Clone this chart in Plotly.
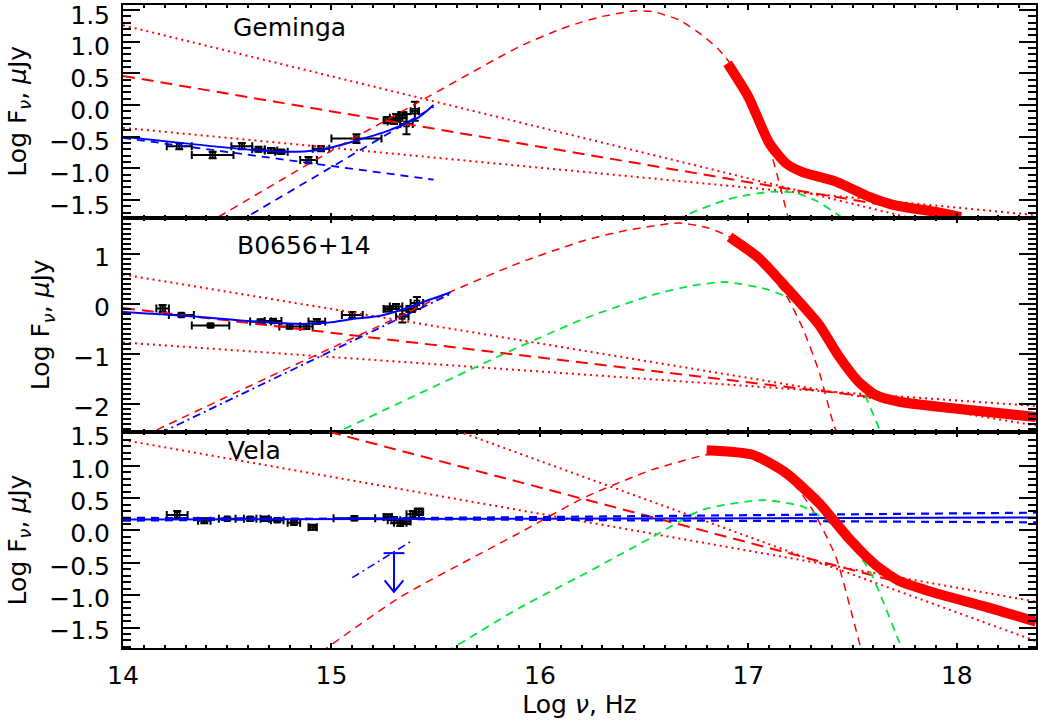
import plotly.graph_objects as go

# ---------------- axis ranges ----------------
X_RANGE = [14.0, 18.38]
Y1_RANGE = [-1.777, 1.58]
Y2_RANGE = [-2.56, 1.73]
Y3_RANGE = [-1.816, 1.522]

panel_names = ["Geminga", "B0656+14", "Vela"]
label_x = [14.80, 14.87, 14.63]
label_y = [1.22, 1.18, 1.24]

# ---------------- Geminga ----------------
gem_dot_hi_x = [14.0, 18.38]; gem_dot_hi_y = [1.26, -2.27]
gem_dot_lo_x = [14.0, 18.38]; gem_dot_lo_y = [-0.36, -1.74]
gem_pl_x = [14.0, 18.38]; gem_pl_y = [0.46, -1.99]
gem_bb_x = [14.40, 14.98, 15.41, 15.90, 16.10, 16.20, 16.30, 16.38, 16.46, 16.55, 16.67, 16.78, 16.86, 16.93, 17.00, 17.05, 17.10, 17.15, 17.20]
gem_bb_y = [-1.88, -0.76, 0.03, 0.92, 1.20, 1.31, 1.40, 1.45, 1.49, 1.47, 1.34, 1.10, 0.87, 0.58, 0.15, -0.22, -0.66, -1.25, -1.90]
gem_tot_x = [16.90, 17.00, 17.10, 17.18, 17.26, 17.42, 17.58, 17.70, 17.90, 18.02]
gem_tot_y = [0.66, 0.13, -0.60, -0.92, -1.06, -1.21, -1.45, -1.58, -1.69, -1.77]
gem_grn_x = [16.60, 16.68, 16.89, 17.00, 17.11, 17.23, 17.33, 17.42, 17.46]
gem_grn_y = [-1.92, -1.77, -1.50, -1.42, -1.37, -1.39, -1.52, -1.71, -1.80]
gem_opt_x = [14.0, 14.31, 14.62, 14.79, 14.94, 15.00, 15.10, 15.26, 15.42, 15.49]
gem_opt_y = [-0.50, -0.61, -0.71, -0.74, -0.71, -0.67, -0.58, -0.42, -0.19, 0.00]
gem_bpl_x = [14.0, 15.49]; gem_bpl_y = [-0.52, -1.18]
gem_brj_x = [14.50, 15.49]; gem_brj_y = [-1.95, -0.03]
gem_px = [14.27, 14.43, 14.57, 14.65, 14.71, 14.76, 14.89, 14.95, 15.12, 15.27, 15.30, 15.31, 15.34, 15.36, 15.40]
gem_py = [-0.65, -0.79, -0.65, -0.70, -0.72, -0.74, -0.87, -0.69, -0.53, -0.24, -0.26, -0.20, -0.16, -0.30, -0.10]
gem_pxe = [0.06, 0.10, 0.05, 0.03, 0.03, 0.03, 0.04, 0.04, 0.12, 0.02, 0.03, 0.03, 0.02, 0.03, 0.02]
gem_pye = [0.05, 0.05, 0.05, 0.04, 0.04, 0.03, 0.05, 0.04, 0.07, 0.05, 0.04, 0.06, 0.05, 0.16, 0.15]

# ---------------- B0656+14 ----------------
b06_dot_hi_x = [14.0, 18.38]; b06_dot_hi_y = [0.59, -2.43]
b06_dot_lo_x = [14.0, 18.38]; b06_dot_lo_y = [-0.77, -2.04]
b06_pl_x = [14.0, 18.38]; b06_pl_y = [-0.08, -2.25]
b06_bb_x = [14.10, 14.69, 15.01, 15.27, 15.57, 15.90, 16.22, 16.40, 16.54, 16.67, 16.80, 16.91, 17.05, 17.18, 17.26, 17.34, 17.41, 17.44]
b06_bb_y = [-2.64, -1.48, -0.86, -0.36, 0.24, 0.82, 1.28, 1.46, 1.56, 1.62, 1.53, 1.34, 0.84, 0.18, -0.48, -1.36, -2.42, -2.70]
b06_tot_x = [16.91, 17.05, 17.18, 17.34, 17.43, 17.53, 17.61, 17.73, 17.97, 18.38]
b06_tot_y = [1.34, 0.92, 0.34, -0.42, -1.02, -1.56, -1.82, -1.96, -2.08, -2.26]
b06_grn_x = [15.00, 15.90, 16.22, 16.54, 16.72, 16.89, 17.10, 17.23, 17.37, 17.53, 17.64]
b06_grn_y = [-2.62, -0.86, -0.28, 0.18, 0.36, 0.44, 0.28, 0.04, -0.56, -1.56, -2.62]
b06_opt_x = [14.0, 14.31, 14.62, 14.86, 14.99, 15.10, 15.23, 15.34, 15.46, 15.57]
b06_opt_y = [-0.16, -0.24, -0.35, -0.40, -0.37, -0.30, -0.24, -0.11, 0.07, 0.23]
b06_bdd_x = [14.18, 15.57]; b06_bdd_y = [-2.58, 0.20]
b06_px = [14.19, 14.28, 14.42, 14.66, 14.72, 14.80, 14.88, 14.93, 15.10, 15.27, 15.31, 15.34, 15.38, 15.41]
b06_py = [-0.09, -0.22, -0.43, -0.35, -0.34, -0.45, -0.45, -0.35, -0.22, -0.10, -0.05, -0.25, -0.10, 0.02]
b06_pxe = [0.03, 0.06, 0.09, 0.05, 0.04, 0.05, 0.03, 0.04, 0.05, 0.02, 0.03, 0.03, 0.02, 0.03]
b06_pye = [0.07, 0.03, 0.03, 0.04, 0.04, 0.04, 0.05, 0.05, 0.06, 0.05, 0.05, 0.12, 0.06, 0.12]

# ---------------- Vela ----------------
vel_dot_a_x = [15.50, 18.38]; vel_dot_a_y = [1.66, -1.71]
vel_dot_b_x = [14.0, 18.38]; vel_dot_b_y = [1.40, -1.10]
vel_pl_x = [14.90, 18.38]; vel_pl_y = [1.60, -1.36]
vel_bb_x = [14.95, 15.33, 15.90, 16.22, 16.54, 16.80, 16.92, 17.05, 17.18, 17.30, 17.42, 17.54, 17.56]
vel_bb_y = [-1.88, -1.03, -0.04, 0.52, 0.94, 1.17, 1.20, 1.10, 0.86, 0.36, -0.41, -1.82, -2.00]
vel_tot_x = [16.80, 17.02, 17.18, 17.34, 17.49, 17.62, 17.73, 17.90, 18.14, 18.38]
vel_tot_y = [1.24, 1.17, 0.89, 0.42, -0.15, -0.56, -0.79, -0.97, -1.18, -1.41]
vel_grn_x = [15.55, 15.90, 16.22, 16.54, 16.78, 17.07, 17.26, 17.42, 17.58, 17.72, 17.75]
vel_grn_y = [-1.88, -1.20, -0.66, -0.10, 0.32, 0.47, 0.37, 0.05, -0.61, -1.69, -1.90]
vel_opt_x = [14.0, 18.38]; vel_opt_y = [0.17, 0.20]
vel_up_x = [14.0, 18.38]; vel_up_y = [0.152, 0.275]
vel_lo_x = [14.0, 18.38]; vel_lo_y = [0.196, 0.126]
vel_bdd_x = [15.10, 15.38]; vel_bdd_y = [-0.73, -0.17]
vel_ul_x = 15.30; vel_ul_top = -0.35; vel_ul_bot = -0.95
vel_px = [14.26, 14.39, 14.50, 14.61, 14.68, 14.74, 14.82, 14.91, 15.11, 15.27, 15.30, 15.33, 15.36, 15.39, 15.42]
vel_py = [0.24, 0.15, 0.18, 0.18, 0.18, 0.16, 0.12, 0.05, 0.19, 0.21, 0.16, 0.12, 0.14, 0.25, 0.29]
vel_pxe = [0.05, 0.03, 0.04, 0.03, 0.02, 0.03, 0.03, 0.02, 0.10, 0.02, 0.03, 0.03, 0.02, 0.03, 0.02]
vel_pye = [0.06, 0.04, 0.02, 0.03, 0.03, 0.03, 0.03, 0.04, 0.03, 0.04, 0.05, 0.05, 0.04, 0.05, 0.05]

RED = "#FF0000"
GREEN = "#00E63C"
BLUE = "#0000FF"
FONT = "DejaVu Sans"
FS = 25

fig = go.Figure()
AX = {1: ("x", "y"), 2: ("x2", "y2"), 3: ("x3", "y3")}


def line(row, x, y, color, width, dash="solid", shape="linear"):
    xa, ya = AX[row]
    fig.add_trace(go.Scatter(x=x, y=y, mode="lines", xaxis=xa, yaxis=ya,
                             line=dict(color=color, width=width, dash=dash, shape=shape, smoothing=0.6),
                             showlegend=False, hoverinfo="skip"))


def points(row, x, y, xe, ye):
    xa, ya = AX[row]
    fig.add_trace(go.Scatter(x=x, y=y, mode="markers", xaxis=xa, yaxis=ya,
                             marker=dict(symbol="square-open", size=5, color="black", line=dict(width=1.5)),
                             error_x=dict(type="data", array=xe, color="black", thickness=2, width=4),
                             error_y=dict(type="data", array=ye, color="black", thickness=2, width=4),
                             showlegend=False, hoverinfo="skip"))


DOT = "2px,4px"
DASH_L = "12px,7px"
DASH_S = "8px,6px"
DASHDOT = "8px,4px,2px,4px"

panels = [
    (1, gem_px, gem_py, gem_pxe, gem_pye),
    (2, b06_px, b06_py, b06_pxe, b06_pye),
    (3, vel_px, vel_py, vel_pxe, vel_pye),
]
for p in panels:
    points(*p)

# Geminga
line(1, gem_dot_hi_x, gem_dot_hi_y, RED, 2, DOT)
line(1, gem_dot_lo_x, gem_dot_lo_y, RED, 2, DOT)
line(1, gem_pl_x, gem_pl_y, RED, 2, DASH_L)
line(1, gem_bb_x, gem_bb_y, RED, 1.5, DASH_S, "spline")
line(1, gem_grn_x, gem_grn_y, GREEN, 1.8, DASH_S, "spline")
line(1, gem_bpl_x, gem_bpl_y, BLUE, 1.8, DASH_S)
line(1, gem_brj_x, gem_brj_y, BLUE, 1.8, DASH_S)
line(1, gem_opt_x, gem_opt_y, BLUE, 2, "solid", "spline")
line(1, gem_tot_x, gem_tot_y, RED, 10, "solid", "spline")

# B0656+14
line(2, b06_dot_hi_x, b06_dot_hi_y, RED, 2, DOT)
line(2, b06_dot_lo_x, b06_dot_lo_y, RED, 2, DOT)
line(2, b06_pl_x, b06_pl_y, RED, 2, DASH_L)
line(2, b06_bb_x, b06_bb_y, RED, 1.5, DASH_S, "spline")
line(2, b06_grn_x, b06_grn_y, GREEN, 1.8, DASH_S, "spline")
line(2, b06_bdd_x, b06_bdd_y, BLUE, 1.8, DASHDOT)
line(2, b06_opt_x, b06_opt_y, BLUE, 2, "solid", "spline")
line(2, b06_tot_x, b06_tot_y, RED, 10, "solid", "spline")

# Vela
line(3, vel_dot_a_x, vel_dot_a_y, RED, 2, DOT)
line(3, vel_dot_b_x, vel_dot_b_y, RED, 2, DOT)
line(3, vel_pl_x, vel_pl_y, RED, 2, DASH_L)
line(3, vel_bb_x, vel_bb_y, RED, 1.5, DASH_S, "spline")
line(3, vel_grn_x, vel_grn_y, GREEN, 1.8, DASH_S, "spline")
line(3, vel_opt_x, vel_opt_y, BLUE, 2)
line(3, vel_up_x, vel_up_y, BLUE, 2.2, DASH_S)
line(3, vel_lo_x, vel_lo_y, BLUE, 2.2, DASH_S)
line(3, vel_bdd_x, vel_bdd_y, BLUE, 1.5, DASHDOT)
line(3, vel_tot_x, vel_tot_y, RED, 10, "solid", "spline")
# upper limit with arrow
cap = 0.05
line(3, [vel_ul_x - cap, vel_ul_x + cap], [vel_ul_top, vel_ul_top], BLUE, 2)
line(3, [vel_ul_x, vel_ul_x], [vel_ul_top, vel_ul_bot], BLUE, 2)
line(3, [vel_ul_x - 0.045, vel_ul_x, vel_ul_x + 0.045],
     [vel_ul_bot + 0.18, vel_ul_bot, vel_ul_bot + 0.18], BLUE, 2)

# ---------------- layout ----------------
H_PLOT = 726 - 5 - 78
d3 = (648 - 432) / H_PLOT
d2 = (648 - 217.5) / H_PLOT

tickfont = dict(family=FONT, size=FS, color="black")
common = dict(showline=True, linewidth=2, linecolor="black", mirror="ticks", automargin=False,
              ticks="inside", tickwidth=2, tickcolor="black", showgrid=False, zeroline=False,
              tickfont=tickfont, ticklabeloverflow="allow")

xcommon = dict(common, range=X_RANGE, dtick=1, tick0=14, ticklen=5,
               minor=dict(dtick=0.1, tick0=14, ticklen=3, ticks="inside", tickwidth=1.5, tickcolor="black", showgrid=False))


def ycommon(rng, dtick, fmt, shift):
    return dict(common, range=rng, dtick=dtick, tick0=0, tickformat=fmt, ticklen=17,
                ticklabelstandoff=6, ticklabelshift=shift,
                minor=dict(dtick=0.1, tick0=0, ticklen=8, ticks="inside", tickwidth=1.5, tickcolor="black", showgrid=False),
                title=dict(text="Log F<sub><i>ν</i></sub>, <i>μ</i>Jy", font=dict(family=FONT, size=FS, color="black"), standoff=16))


fig.update_layout(
    width=1038, height=726,
    margin=dict(l=123, r=2, t=5, b=78, autoexpand=False),
    paper_bgcolor="white", plot_bgcolor="white",
    font=dict(family=FONT, size=FS, color="black"),
    xaxis=dict(xcommon, domain=[0, 1], anchor="y", showticklabels=False),
    xaxis2=dict(xcommon, domain=[0, 1], anchor="y2", showticklabels=False),
    xaxis3=dict(xcommon, domain=[0, 1], anchor="y3", showticklabels=True, ticklabelstandoff=4,
                title=dict(text="Log <i>ν</i>, Hz", font=dict(family=FONT, size=FS, color="black"), standoff=2)),
    yaxis=dict(ycommon(Y1_RANGE, 0.5, ".1f", 5), domain=[d2, 1], anchor="x"),
    yaxis2=dict(ycommon(Y2_RANGE, 1, "d", 3), domain=[d3, d2], anchor="x2"),
    yaxis3=dict(ycommon(Y3_RANGE, 0.5, ".1f", 3), domain=[0, d3], anchor="x3"),
)

for i, name in enumerate(panel_names):
    xa, ya = AX[i + 1]
    fig.add_annotation(x=label_x[i], y=label_y[i], xref=xa, yref=ya, text=name, showarrow=False,
                       font=dict(family=FONT, size=FS, color="black"))

fig.write_html("out.html", config={"displayModeBar": False},
               post_script="document.body.style.margin='0';document.body.style.padding='0';")
